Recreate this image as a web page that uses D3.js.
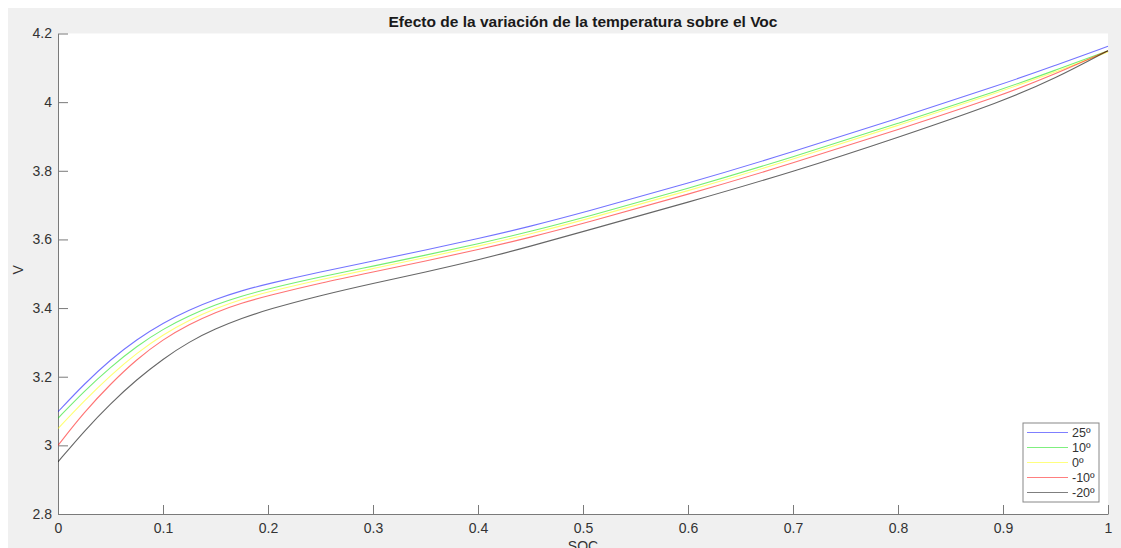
<!DOCTYPE html>
<html>
<head>
<meta charset="utf-8">
<script src="https://cdn.jsdelivr.net/npm/d3@7"></script>
<style>
  html, body { margin: 0; padding: 0; background: #ffffff; }
  svg { display: block; }
  text { font-family: "Liberation Sans", Arial, Helvetica, sans-serif; }
</style>
</head>
<body>
<svg id="chart" width="1121" height="548"></svg>
<script>
// State of charge sample points
const soc = [0, 0.025, 0.05, 0.075, 0.1, 0.125, 0.15, 0.175, 0.2, 0.25, 0.3, 0.35, 0.4, 0.45, 0.5, 0.6, 0.7, 0.8, 0.9, 0.95, 1.0];

// Open-circuit voltage (V) for each temperature
const voc25  = [3.098, 3.179, 3.250, 3.309, 3.357, 3.395, 3.426, 3.451, 3.471, 3.506, 3.537, 3.569, 3.602, 3.638, 3.678, 3.763, 3.855, 3.953, 4.053, 4.107, 4.163];
const voc10  = [3.079, 3.158, 3.228, 3.289, 3.339, 3.378, 3.410, 3.435, 3.456, 3.491, 3.522, 3.554, 3.587, 3.623, 3.663, 3.748, 3.840, 3.938, 4.038, 4.093, 4.150];
const voc0   = [3.049, 3.130, 3.204, 3.269, 3.323, 3.365, 3.399, 3.426, 3.447, 3.483, 3.515, 3.547, 3.580, 3.616, 3.656, 3.741, 3.833, 3.932, 4.033, 4.088, 4.146];
const vocM10 = [3.000, 3.097, 3.179, 3.251, 3.309, 3.353, 3.388, 3.415, 3.436, 3.473, 3.505, 3.537, 3.570, 3.606, 3.646, 3.731, 3.822, 3.920, 4.021, 4.082, 4.150];
const vocM20 = [2.952, 3.042, 3.122, 3.192, 3.252, 3.302, 3.340, 3.370, 3.396, 3.437, 3.472, 3.505, 3.540, 3.580, 3.623, 3.708, 3.797, 3.897, 4.003, 4.069, 4.150];

const seriesNames  = ["25º", "10º", "0º", "-10º", "-20º"];
const seriesValues = [voc25, voc10, voc0, vocM10, vocM20];
const seriesColors = ["#0000ff", "#00e000", "#ffff00", "#ff0000", "#000000"];

const xTicks = [0, 0.1, 0.2, 0.3, 0.4, 0.5, 0.6, 0.7, 0.8, 0.9, 1];
const yTicks = [2.8, 3, 3.2, 3.4, 3.6, 3.8, 4, 4.2];

const titleText = "Efecto de la variación de la temperatura sobre el Voc";
const xLabel = "SOC";
const yLabel = "V";

const W = 1121, H = 548;
const plot = { left: 58, right: 1108, top: 33.5, bottom: 514 };

const svg = d3.select("#chart");

// figure background (grey panel with a thin white border at top and left)
svg.append("rect").attr("x", 8).attr("y", 8).attr("width", W - 8).attr("height", H - 8).attr("fill", "#f0f0f0");

// axes area
svg.append("rect")
  .attr("x", plot.left).attr("y", plot.top)
  .attr("width", plot.right - plot.left).attr("height", plot.bottom - plot.top)
  .attr("fill", "#ffffff");

const x = d3.scaleLinear().domain([0, 1]).range([plot.left, plot.right]);
const y = d3.scaleLinear().domain([2.8, 4.2]).range([plot.bottom, plot.top]);

const axisColor = "#7a7a7a";
const tickText = "#333333";

// x axis, ticks pointing inward
const xAxis = svg.append("g")
  .attr("transform", `translate(0,${plot.bottom})`)
  .call(d3.axisBottom(x).tickValues(xTicks).tickSizeInner(-9).tickSizeOuter(0).tickPadding(19)
    .tickFormat(d => d3.format("")(d)));
xAxis.select(".domain").attr("stroke", axisColor);
xAxis.selectAll(".tick line").attr("stroke", axisColor);
xAxis.selectAll(".tick text").attr("fill", tickText).attr("font-size", 14).attr("dy", "0em");

// y axis, ticks pointing inward
const yAxis = svg.append("g")
  .attr("transform", `translate(${plot.left},0)`)
  .call(d3.axisLeft(y).tickValues(yTicks).tickSizeInner(-10).tickSizeOuter(0).tickPadding(6)
    .tickFormat(d => d3.format("")(+d.toFixed(1))));
yAxis.select(".domain").attr("stroke", axisColor);
yAxis.selectAll(".tick line").attr("stroke", axisColor);
yAxis.selectAll(".tick text").attr("fill", tickText).attr("font-size", 14);

// curves (B-spline through the sampled points keeps the bend smooth)
const line = d3.line()
  .x(d => x(d[0]))
  .y(d => y(d[1]))
  .curve(d3.curveBasis);

svg.append("clipPath").attr("id", "plotClip")
  .append("rect")
  .attr("x", plot.left).attr("y", plot.top - 2)
  .attr("width", plot.right - plot.left + 1).attr("height", plot.bottom - plot.top + 2);

const curves = svg.append("g").attr("clip-path", "url(#plotClip)");
seriesValues.forEach((vals, i) => {
  curves.append("path")
    .datum(soc.map((s, j) => [s, vals[j]]))
    .attr("fill", "none")
    .attr("stroke", seriesColors[i])
    .attr("stroke-opacity", i === 4 ? 0.6 : 0.55)
    .attr("stroke-width", 1.1)
    .attr("d", line);
});

// title
const title = svg.append("text")
  .attr("x", (plot.left + plot.right) / 2).attr("y", 27)
  .attr("text-anchor", "middle")
  .attr("font-size", 15).attr("font-weight", "bold").attr("fill", "#1a1a1a")
  .text(titleText);
const tw = title.node().getComputedTextLength();
if (Math.abs(tw - 389) > 4) {
  title.attr("textLength", 389).attr("lengthAdjust", "spacingAndGlyphs");
}

// axis labels
svg.append("text")
  .attr("x", (plot.left + plot.right) / 2).attr("y", 551)
  .attr("text-anchor", "middle")
  .attr("font-size", 14).attr("fill", tickText)
  .text(xLabel);

svg.append("text")
  .attr("transform", `translate(23,${(plot.top + plot.bottom) / 2 - 4}) rotate(-90)`)
  .attr("text-anchor", "middle")
  .attr("font-size", 14).attr("fill", tickText)
  .text(yLabel);

// legend
const lg = { x: 1023, y: 423, w: 76, h: 79 };
const legend = svg.append("g");
legend.append("rect")
  .attr("x", lg.x).attr("y", lg.y).attr("width", lg.w).attr("height", lg.h)
  .attr("fill", "#ffffff").attr("stroke", "#888888").attr("stroke-width", 1);
seriesNames.forEach((name, i) => {
  const ly = lg.y + 9.5 + i * 15;
  legend.append("line")
    .attr("x1", lg.x + 4).attr("x2", lg.x + 45)
    .attr("y1", ly).attr("y2", ly)
    .attr("stroke", seriesColors[i])
    .attr("stroke-opacity", 0.5)
    .attr("stroke-width", 1.1);
  legend.append("text")
    .attr("x", lg.x + 49).attr("y", ly + 4.5)
    .attr("font-size", 12.5).attr("fill", tickText)
    .text(name);
});
</script>
</body>
</html>
